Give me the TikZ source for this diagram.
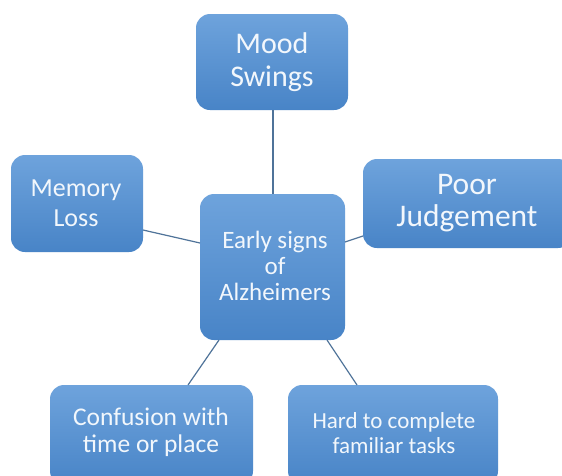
\documentclass[tikz,border=0pt]{standalone}
\usepackage{fontspec}
\setmainfont{Carlito}
\definecolor{boxtop}{HTML}{6EA3DC}
\definecolor{boxbot}{HTML}{4884C7}
\definecolor{linkc}{HTML}{4F7399}
\definecolor{txt}{HTML}{F2F7FC}
\begin{document}
\begin{tikzpicture}[x=1pt,y=-1pt,
  sign/.style={rounded corners=14pt, top color=boxtop, bottom color=boxbot,
    draw=none},
  label/.style={text=txt, align=center, inner sep=0pt},
  link/.style={draw=linkc, line width=1.2pt}]
\useasboundingbox (0,0) rectangle (562,475);
\fill[white] (0,0) rectangle (562,475);
% the boxes, each placed by its corners
\path[sign] (196,14) rectangle (348,110);
\node[label, font=\fontsize{30}{33}\selectfont] (mood) at (272,62) {Mood\\Swings};
\path[sign] (200,194) rectangle (345,340);
\node[label, font=\fontsize{25}{26}\selectfont] (center) at (275,266) {Early signs\\of\\Alzheimers};
\path[sign] (11,155) rectangle (143,252);
\node[label, font=\fontsize{26}{30}\selectfont] (memory) at (76,203) {Memory\\Loss};
\path[sign] (363,159) rectangle (572,248);
\node[label, font=\fontsize{31.5}{32}\selectfont] (poor) at (467,203) {Poor\\Judgement};
\path[sign] (50,385) rectangle (253,485);
\node[label, font=\fontsize{25.5}{27}\selectfont] (conf) at (151,432) {Confusion with\\time or place};
\path[sign] (288,385) rectangle (498,485);
\node[label, font=\fontsize{23}{25}\selectfont] (hard) at (394,433) {Hard to complete\\familiar tasks};
% anchor points on the box edges
\coordinate (mB) at (273,110);
\coordinate (cT) at (273,194);
\coordinate (lR) at (143,230);
\coordinate (cL) at (200,243);
\coordinate (pL) at (363,236);
\coordinate (cR) at (345,242);
\coordinate (fT) at (188,385);
\coordinate (cBL) at (219,340);
\coordinate (hT) at (357,385);
\coordinate (cBR) at (327,340);
\draw[link] (mB) -- (cT);
\draw[link] (lR) -- (cL);
\draw[link] (pL) -- (cR);
\draw[link] (fT) -- (cBL);
\draw[link] (hT) -- (cBR);
\end{tikzpicture}
\end{document}
